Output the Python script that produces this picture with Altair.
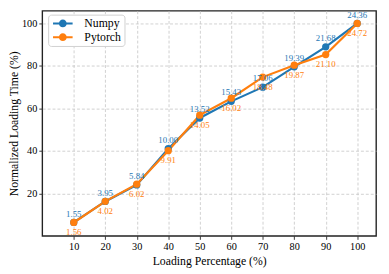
import altair as alt
import pandas as pd

pct = [10, 20, 30, 40, 50, 60, 70, 80, 90, 100]
numpy_times = [1.55, 3.95, 5.84, 10.00, 13.52, 15.43, 17.06, 19.39, 21.68, 24.36]
pytorch_times = [1.56, 4.02, 6.02, 9.91, 14.05, 16.02, 18.48, 19.87, 21.10, 24.72]
series = ["Numpy", "Pytorch"]
colors = ["#1f77b4", "#ff7f0e"]

rows = []
for name, times in zip(series, [numpy_times, pytorch_times]):
    last = times[-1]
    for p, t in zip(pct, times):
        rows.append({"pct": p, "time": t, "norm": t / last * 100, "series": name})
df = pd.DataFrame(rows)

FONT = "Liberation Serif"
x = alt.X("pct:Q", scale=alt.Scale(domain=[0, 106], nice=False, zero=False),
          axis=alt.Axis(values=pct, title="Loading Percentage (%)"))
y = alt.Y("norm:Q", scale=alt.Scale(domain=[0, 106], nice=False, zero=False),
          axis=alt.Axis(values=[20, 40, 60, 80, 100], title="Normalized Loading Time (%)"))
color_scale = alt.Scale(domain=series, range=colors)

sym = "M-2,-0.2H2V0.2H-2Z M0.8,0A0.8,0.8 0 1 1 -0.8,0A0.8,0.8 0 1 1 0.8,0Z"
legend = alt.Legend(title=None, orient="none", legendX=6, legendY=4,
                    symbolType=sym, symbolSize=100, symbolStrokeWidth=0,
                    symbolOffset=6,
                    labelFont=FONT, labelFontSize=12, labelColor="#000",
                    labelOffset=16, padding=3, rowPadding=2,
                    strokeColor="#d0d0d0", fillColor="white", cornerRadius=3)

base = alt.Chart(df)

lines = base.mark_line(strokeWidth=2.2).encode(
    x=x, y=y, color=alt.Color("series:N", scale=color_scale, legend=legend))

points = base.mark_point(filled=True, size=55, opacity=1).encode(
    x=x, y=y, color=alt.Color("series:N", scale=color_scale, legend=legend))

txt_np = base.transform_filter(alt.datum.series == "Numpy").mark_text(
    dy=-9, fontSize=9, font=FONT, color=colors[0]).encode(
    x=x, y=y, text=alt.Text("time:Q", format=".2f"))
txt_pt = base.transform_filter(alt.datum.series == "Pytorch").mark_text(
    dy=10, fontSize=9, font=FONT, color=colors[1]).encode(
    x=x, y=y, text=alt.Text("time:Q", format=".2f"))

chart = alt.layer(lines, points, txt_np, txt_pt).properties(
    width=341, height=230,
    autosize=alt.AutoSizeParams(type="none"),
    padding={"left": 35, "top": 0, "right": 5, "bottom": 30},
).configure_view(
    stroke="#222", strokeWidth=1.4
).configure_axis(
    labelFont=FONT, titleFont=FONT, labelFontSize=10.5, titleFontSize=12,
    labelColor="#000", titleColor="#000", titleFontWeight="normal",
    domain=False, grid=True, gridColor="#c4c4c4", gridDash=[3, 2], gridWidth=0.8,
    tickColor="#222", tickSize=3.5, tickWidth=0.9, labelPadding=2,
).configure_axisX(titlePadding=4).configure_axisY(titlePadding=1)

chart.save("out.html", embed_options={"renderer": "svg", "actions": False})
